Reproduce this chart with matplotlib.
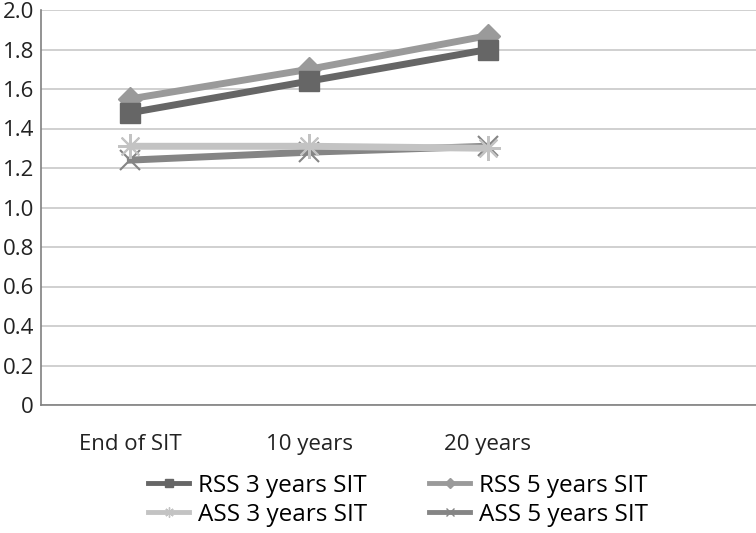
import matplotlib
matplotlib.use("Agg")
import matplotlib.pyplot as plt
from matplotlib.ticker import FuncFormatter
from matplotlib.lines import Line2D

plt.rcParams['font.family'] = ['Open Sans', 'DejaVu Sans']

categories = ["End of SIT", "10 years", "20 years", ""]
rss3 = [1.48, 1.64, 1.80]
rss5 = [1.55, 1.70, 1.87]
ass3 = [1.31, 1.31, 1.30]
ass5 = [1.24, 1.28, 1.31]
yticks = [0, 0.2, 0.4, 0.6, 0.8, 1.0, 1.2, 1.4, 1.6, 1.8, 2.0]

fig = plt.figure(figsize=(7.56, 5.33), dpi=100)
top_px = 10
ax = fig.add_axes([41/756, 1-405/533, 1-41/756, (405-top_px)/533])

x = list(range(3))
lw = 5
styles = [
    ('RSS 3 years SIT', rss3, '#666666', 's', 15, 1.0, 4),
    ('RSS 5 years SIT', rss5, '#9a9a9a', 'D', 12, 1.0, 3),
    ('ASS 3 years SIT', ass3, '#c3c3c3', (8, 2, 0), 18, 1.5, 3),
    ('ASS 5 years SIT', ass5, '#858585', 'x', 14, 1.5, 2),
]
handles = []
for label, vals, c, m, ms, mew, z in styles:
    ax.plot(x, vals, color=c, lw=lw, marker=m, ms=ms, mew=mew, mec=c, zorder=z)
    handles.append(Line2D([], [], color=c, lw=3.5, marker=m, ms=ms*0.4, mew=1.0, mec=c, label=label))

ax.set_xlim(-0.5, 3.5)
ax.set_ylim(0, 2.0)
ax.set_yticks(yticks)
ax.yaxis.set_major_formatter(FuncFormatter(lambda v, p: '0' if v == 0 else f'{v:.1f}'))
ax.set_xticks(range(4))
ax.set_xticklabels(categories)
ax.tick_params(axis='both', length=0, labelsize=16, colors='#222222')
ax.tick_params(axis='x', pad=21)
ax.tick_params(axis='y', pad=5)
ax.grid(axis='y', color='#c8c8c8', lw=1.2)
ax.set_axisbelow(True)
for s in ['top', 'right']:
    ax.spines[s].set_visible(False)
for s in ['left', 'bottom']:
    ax.spines[s].set_color('#808080')
    ax.spines[s].set_linewidth(1.2)

order = [handles[0], handles[2], handles[1], handles[3]]
fig.legend(handles=order, loc='upper left', bbox_to_anchor=(148/756, 1-474/533),
           ncol=2, frameon=False, fontsize=17.5, handlelength=1.7,
           columnspacing=2.55, labelspacing=0.2, handletextpad=0.35, borderaxespad=0,
           borderpad=0)

fig.savefig('out.png', dpi=100)
